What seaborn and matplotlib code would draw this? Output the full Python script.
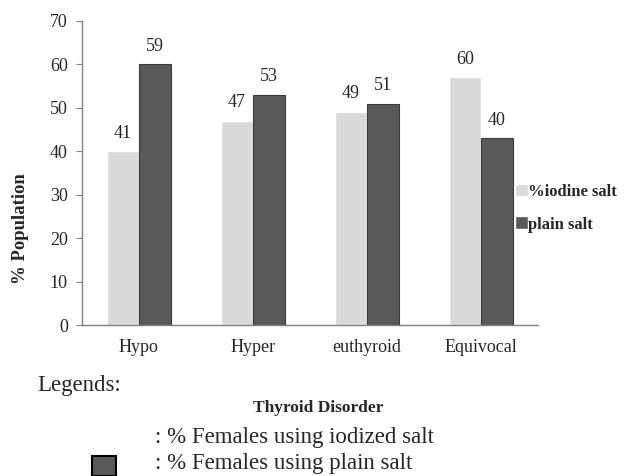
import pandas as pd
import matplotlib.pyplot as plt
import seaborn as sns
from matplotlib.patches import Rectangle

# values
disorders = ["Hypo", "Hyper", "euthyroid", "Equivocal"]
series = ["%iodine salt", "plain salt"]
iodine_pct = [40, 47, 49, 57]      # drawn bar heights
plain_pct = [60, 53, 51, 43]
iodine_labels = ["41", "47", "49", "60"]   # numbers printed above bars
plain_labels = ["59", "53", "51", "40"]
colors = ["#d9d9d9", "#595959"]

df = pd.DataFrame({
    "disorder": disorders * 2,
    "salt": [series[0]] * 4 + [series[1]] * 4,
    "pct": iodine_pct + plain_pct,
})

sns.set_style("white")
plt.rcParams['font.family'] = ['Liberation Serif', 'DejaVu Serif']

fig = plt.figure(figsize=(6.24, 4.76), dpi=100)
ax = fig.add_axes([0.131, 0.317, 0.731, 0.639])

sns.barplot(data=df, x="disorder", y="pct", hue="salt", order=disorders,
            hue_order=series, palette=colors, saturation=1, width=0.56, ax=ax)

for cont, labs in zip(ax.containers, [iodine_labels, plain_labels]):
    ax.bar_label(cont, labels=labs, padding=7, fontsize=13)
for p in ax.containers[1]:
    p.set_edgecolor("#3a3a3a")
    p.set_linewidth(0.8)

ax.set_ylim(0, 70)
ax.set_yticks(range(0, 71, 10))
ax.set_xlim(-0.5, 3.5)
ax.set_xticks([-0.5, 0.5, 1.5, 2.5, 3.5], minor=True)
ax.tick_params(axis="x", which="major", length=0, pad=10, labelsize=13)
ax.tick_params(axis="x", which="minor", length=4, color="#808080", direction="out")
ax.tick_params(axis="y", length=4, color="#808080", direction="out", pad=6, labelsize=13, left=True)

for s in ["top", "right"]:
    ax.spines[s].set_visible(False)
for s in ["left", "bottom"]:
    ax.spines[s].set_color("#808080")
    ax.spines[s].set_linewidth(1)

ax.set_ylabel("% Population", fontweight="bold", fontsize=13.5)
ax.yaxis.set_label_coords(-0.116, 0.319)
ax.set_xlabel("Thyroid Disorder", fontweight="bold", fontsize=12.5)
ax.xaxis.set_label_coords(0.518, -0.247)

handles, labels = ax.get_legend_handles_labels()
ax.legend(handles, labels, loc="center left", bbox_to_anchor=(515 / 624, 1 - 208 / 476),
          bbox_transform=fig.transFigure, frameon=False, handlelength=0.75,
          handleheight=0.8, handletextpad=0.05, labelspacing=1.0, borderpad=0,
          borderaxespad=0, prop={"weight": "bold", "size": 12})

# hand-made legend block below the chart
fig.text(37 / 624, 1 - 385 / 476, "Legends:", fontsize=16.5, va="center")
fig.text(155 / 624, 1 - 437 / 476, ": % Females using iodized salt", fontsize=16.5, va="center")
fig.text(155 / 624, 1 - 463 / 476, ": % Females using plain salt", fontsize=16.5, va="center")
fig.add_artist(Rectangle((92 / 624, 0.0), 24 / 624, 20 / 476, transform=fig.transFigure,
                         facecolor=colors[1], edgecolor="black", linewidth=1.5))

fig.savefig("out.png", dpi=100)
